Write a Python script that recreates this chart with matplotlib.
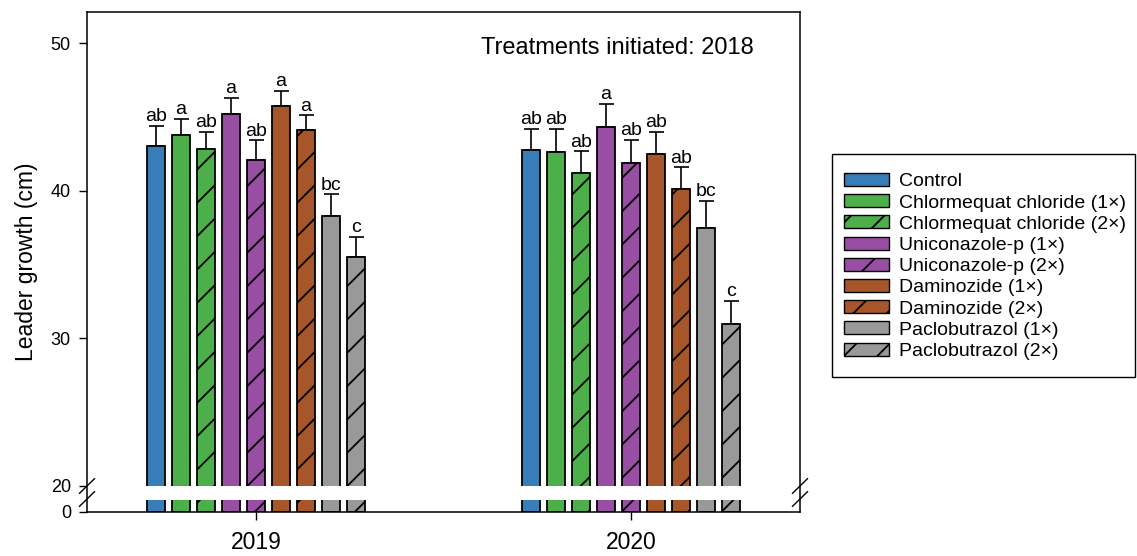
import numpy as np
import matplotlib
matplotlib.use('Agg')
import matplotlib.pyplot as plt
from matplotlib.patches import Patch, Rectangle

plt.rcParams['font.family'] = ['Liberation Sans', 'DejaVu Sans']
plt.rcParams['hatch.linewidth'] = 1.3

# ---------------- data ----------------
years = ['2019', '2020']
treatments = ['Control', 'Chlormequat chloride (1×)', 'Chlormequat chloride (2×)',
              'Uniconazole-p (1×)', 'Uniconazole-p (2×)', 'Daminozide (1×)',
              'Daminozide (2×)', 'Paclobutrazol (1×)', 'Paclobutrazol (2×)']
values_2019 = [43.0, 43.8, 42.8, 45.2, 42.1, 45.7, 44.1, 38.3, 35.5]
se_2019 = [1.4, 1.05, 1.2, 1.1, 1.3, 1.06, 1.0, 1.45, 1.35]
values_2020 = [42.75, 42.6, 41.2, 44.3, 41.85, 42.5, 40.1, 37.5, 31.0]
se_2020 = [1.45, 1.58, 1.47, 1.58, 1.6, 1.5, 1.47, 1.83, 1.55]
letters_2019 = ['ab', 'a', 'ab', 'a', 'ab', 'a', 'a', 'bc', 'c']
letters_2020 = ['ab', 'ab', 'ab', 'a', 'ab', 'ab', 'ab', 'bc', 'c']
yticks = [0, 20, 30, 40, 50]

# ---------------- styles ----------------
colors = ['#377eb8', '#4daf4a', '#4daf4a', '#984ea3', '#984ea3',
          '#a65628', '#a65628', '#999999', '#999999']
hatches = ['', '', '/', '', '/', '', '/', '', '/']

values = [values_2019, values_2020]
ses = [se_2019, se_2020]
letters = [letters_2019, letters_2020]

# broken axis scale: 0-20 compressed into a small segment
G = 26 / 14.75


def fwd(y):
    y = np.asarray(y, dtype=float)
    return np.where(y >= 20, y - 20 + G, y * G / 20)


def inv(t):
    t = np.asarray(t, dtype=float)
    return np.where(t >= G, t + 20 - G, t * 20 / G)


fig = plt.figure(figsize=(11.37, 5.56), dpi=100)
ax = fig.add_axes([87 / 1137, 44 / 556, 713 / 1137, 500 / 556])
ax.set_yscale('function', functions=(fwd, inv))

step = 0.0667
width = 0.048
n = len(treatments)
for g, yr in enumerate(years):
    xs = g + (np.arange(n) - (n - 1) / 2) * step
    ax.bar(xs, values[g], width=width, color=colors, edgecolor='black',
           hatch=hatches, linewidth=1.3, zorder=2)
    ax.errorbar(xs, values[g], yerr=[np.zeros(n), ses[g]], fmt='none',
                ecolor='black', elinewidth=1.2, capsize=5.4, capthick=1.2,
                zorder=1.9)
    for x, v, s, lab in zip(xs, values[g], ses[g], letters[g]):
        ax.annotate(lab, (x, v + s), xytext=(0, 3.4), textcoords='offset points',
                    ha='center', va='baseline', fontsize=14)

# white break band
ax.axhspan(float(inv(12 / 14.75)), 20, color='white', zorder=2.3, lw=0)

ax.set_ylim(0, 52.1)
ax.set_xlim(-0.451, 1.451)
ax.set_yticks(yticks)
ax.set_yticklabels([str(t) for t in yticks])
ax.yaxis.set_minor_locator(matplotlib.ticker.NullLocator())
ax.set_xticks([0, 1])
ax.set_xticklabels(years, fontsize=16.5)
ax.tick_params(axis='y', direction='out', length=5.8, width=1.0, labelsize=13, pad=5.8)
ax.tick_params(axis='x', direction='out', length=5.8, width=1.0, pad=8)
for sp in ax.spines.values():
    sp.set_linewidth(1.1)
    sp.set_zorder(2.5)

ax.set_ylabel('Leader growth (cm)', fontsize=16.5, labelpad=9)

ax.text(0.553, 0.928, 'Treatments initiated: 2018', transform=ax.transAxes,
        fontsize=17, ha='left', va='center')

# break marks on both vertical spines
dx = 0.0105
dy = 0.0146
for xa in (0, 1):
    for ya in (0.052, 0.026):
        ax.plot([xa - dx, xa + dx], [ya - dy, ya + dy], transform=ax.transAxes,
                color='black', lw=1.0, clip_on=False, zorder=5)

# legend (frame drawn separately)
handles = [Patch(facecolor=c, edgecolor='black', hatch=h, linewidth=1.0)
           for c, h in zip(colors, hatches)]
leg = fig.legend(handles, treatments, loc='upper left',
                 bbox_to_anchor=(844 / 1137, 1 - 173 / 556),
                 borderaxespad=0, fontsize=14, frameon=False,
                 handlelength=2.3, handleheight=0.65, handletextpad=0.55,
                 labelspacing=0.2, borderpad=0)
fig.patches.append(Rectangle((832 / 1137, 1 - 377 / 556), 303 / 1137, 223 / 556,
                             transform=fig.transFigure, fill=False,
                             edgecolor='black', linewidth=1.0))

fig.savefig('out.png', dpi=100)
